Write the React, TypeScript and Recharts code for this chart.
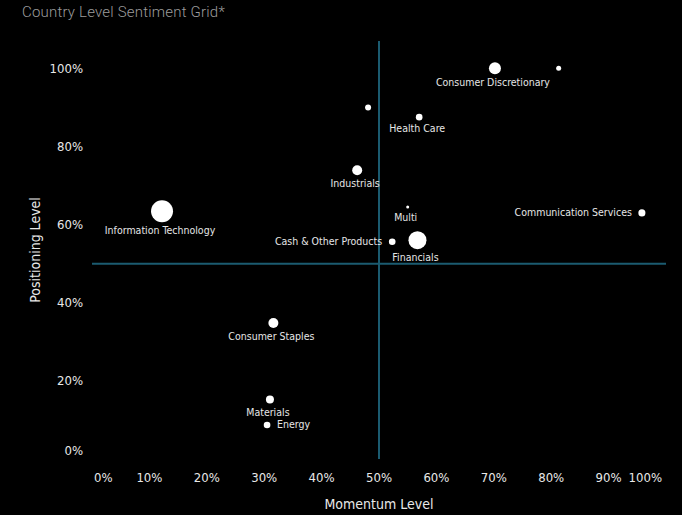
import { ReferenceLine, Scatter, ScatterChart, XAxis, YAxis, ZAxis } from "recharts";

// sector points (fractions of 1)
const sectors = [
  "Consumer Discretionary",
  "",
  "",
  "Health Care",
  "Industrials",
  "Information Technology",
  "Multi",
  "Cash & Other Products",
  "Financials",
  "Communication Services",
  "Consumer Staples",
  "Materials",
  "Energy",
];
const momentum = [0.702, 0.813, 0.481, 0.57, 0.462, 0.122, 0.55, 0.523, 0.567, 0.958, 0.316, 0.31, 0.305];
const positioning = [1.0, 1.0, 0.9, 0.875, 0.739, 0.634, 0.645, 0.556, 0.56, 0.63, 0.348, 0.152, 0.087];
const weight = [7.2, 1.25, 1.8, 2.2, 5.0, 24.2, 0.45, 2.2, 16.2, 2.5, 5.0, 3.2, 2.2];

const xTicks = [0, 0.1, 0.2, 0.3, 0.4, 0.5, 0.6, 0.7, 0.8, 0.9, 1];
const yTicks = [0, 0.2, 0.4, 0.6, 0.8, 1];

// where each label sits relative to its bubble
const labelSide: Record<string, "left" | "right"> = {
  "Cash & Other Products": "left",
  "Communication Services": "left",
  Energy: "right",
};

const data = sectors.map((sector, i) => ({
  sector,
  momentum: momentum[i],
  positioning: positioning[i],
  weight: weight[i],
}));

const axisFont = "'DejaVu Sans Condensed', 'DejaVu Sans', sans-serif";
const lineColor = "#1b5b70";

const pct = (v: number) => `${Math.round(v * 100)}%`;

function XTick(props: any) {
  const { x, y, payload } = props;
  const v = payload.value;
  let anchor = "middle";
  let tx = x;
  if (v === 0) {
    anchor = "start";
    tx = x + 2;
  } else if (v === 1) {
    anchor = "end";
    tx = x - 4;
  }
  return (
    <text x={tx} y={y + 10} textAnchor={anchor} dominantBaseline="central" fill="#e8e8e8" fontSize={13} fontFamily={axisFont}>
      {pct(v)}
    </text>
  );
}

function YTick(props: any) {
  const { x, y, payload } = props;
  const v = payload.value;
  return (
    <text x={x - 1} y={v === 0 ? y - 9 : y} textAnchor="end" dominantBaseline="central" fill="#e8e8e8" fontSize={13} fontFamily={axisFont}>
      {pct(v)}
    </text>
  );
}

function Bubble(props: any) {
  const { cx, cy, payload } = props;
  const size = props.size ?? 0;
  const r = Math.sqrt(Math.max(size, 0) / Math.PI);
  const side = labelSide[payload.sector];
  let label = null;
  if (payload.sector) {
    const common = { fill: "#e6e6e6", fontSize: 10.5, fontFamily: axisFont, dominantBaseline: "central" as const };
    if (side === "left") {
      label = <text x={cx - 10} y={cy - 1} textAnchor="end" {...common}>{payload.sector}</text>;
    } else if (side === "right") {
      label = <text x={cx + 10} y={cy - 1} textAnchor="start" {...common}>{payload.sector}</text>;
    } else {
      label = <text x={cx - 2} y={cy + r + 8} textAnchor="middle" {...common}>{payload.sector}</text>;
    }
  }
  return (
    <g>
      <circle cx={cx} cy={cy} r={r} fill="#ffffff" />
      {label}
    </g>
  );
}

export default function App() {
  return (
    <div style={{ position: "absolute", left: 0, top: 0, width: 682, height: 515, background: "#000" }}>
      <div
        style={{
          position: "absolute",
          left: 22,
          top: 3,
          color: "#9c9c9c",
          fontFamily: "Roboto, sans-serif",
          fontWeight: 300,
          fontSize: 15,
          letterSpacing: 0.2,
        }}
      >
        Country Level Sentiment Grid*
      </div>
      <ScatterChart width={682} height={515} margin={{ top: 41, right: 16, bottom: 0, left: 0 }}>
        <XAxis
          type="number"
          dataKey="momentum"
          domain={[0, 1]}
          ticks={xTicks}
          interval={0}
          height={56}
          axisLine={false}
          tickLine={false}
          tick={<XTick />}
          label={{
            value: "Momentum Level",
            position: "insideBottom",
            offset: 6,
            fill: "#e8e8e8",
            fontSize: 14,
            fontFamily: axisFont,
          }}
        />
        <YAxis
          type="number"
          dataKey="positioning"
          domain={[0, 1.07]}
          ticks={yTicks}
          interval={0}
          width={92}
          axisLine={false}
          tickLine={false}
          tick={<YTick />}
          label={{
            value: "Positioning Level",
            angle: -90,
            position: "insideLeft",
            offset: 35,
            fill: "#e8e8e8",
            fontSize: 14,
            fontFamily: axisFont,
            style: { textAnchor: "middle" },
          }}
        />
        <ZAxis type="number" dataKey="weight" domain={[0, 25]} range={[0, 393]} />
        <ReferenceLine x={0.5} stroke={lineColor} strokeWidth={2} />
        <ReferenceLine y={0.5} stroke={lineColor} strokeWidth={2} />
        <Scatter data={data} shape={<Bubble />} isAnimationActive={false} />
      </ScatterChart>
    </div>
  );
}
